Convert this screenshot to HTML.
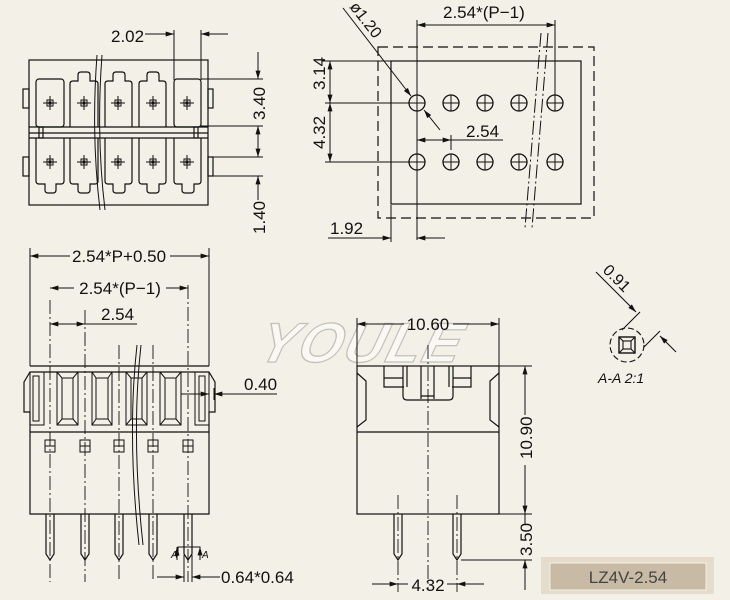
<!DOCTYPE html>
<html><head><style>
html,body{margin:0;padding:0;background:#f3f0e8;}
svg{display:block;}
text{font-family:"Liberation Sans",sans-serif;fill:#111;}
</style></head><body>
<svg width="730" height="600" viewBox="0 0 730 600" xmlns="http://www.w3.org/2000/svg">
<defs>
<marker id="a" viewBox="0 0 10 6" refX="10" refY="3" markerWidth="10" markerHeight="5" orient="auto-start-reverse" markerUnits="userSpaceOnUse"><path d="M0,0L10,3L0,6z" fill="#111"/></marker>
<g id="cross"><rect x="-3" y="-3" width="6" height="6" fill="none" stroke="#111" stroke-width="1"/><line x1="-7" y1="0" x2="7" y2="0" stroke="#111"/><line x1="0" y1="-7" x2="0" y2="7" stroke="#111"/><rect x="-1.5" y="-1.5" width="3" height="3" fill="#111"/></g>
<g id="hole"><circle r="8" fill="none" stroke="#111" stroke-width="1.3"/><line x1="-8" y1="0" x2="8" y2="0" stroke="#111"/><line x1="0" y1="-8" x2="0" y2="8" stroke="#111"/></g>
</defs>
<rect width="730" height="600" fill="#f3f0e8"/>

<!-- watermark -->
<text x="258" y="362" font-size="56" font-weight="bold" font-style="italic" style="fill:#f9f8f4;stroke:#c4c1b8;stroke-width:1.3" transform="skewX(-15) translate(95,0)" letter-spacing="2">YOULE</text>

<g stroke="#111" stroke-width="1.2" fill="none">
<!-- ===== Top-left view ===== -->
<rect x="29" y="60" width="179" height="145"/>
<rect x="23" y="89" width="6" height="19"/><rect x="23" y="157" width="6" height="19"/>
<rect x="208" y="89" width="5" height="19"/><rect x="208" y="157" width="5" height="19"/>
<line x1="29" y1="127" x2="208" y2="127"/><line x1="29" y1="133" x2="208" y2="133"/><line x1="29" y1="138" x2="208" y2="138"/>
<rect x="39" y="127" width="4" height="11"/><rect x="194" y="127" width="4" height="11"/>
<rect x="36" y="79" width="28" height="48" rx="3"/>
<path d="M70,127V84q0-3 3-3h5v-6q0-3 3-3h6q3 0 3 3v6h5q3 0 3 3v43"/>
<path d="M105,127V84q0-3 3-3h5v-6q0-3 3-3h6q3 0 3 3v6h4q3 0 3 3v43"/>
<path d="M139,127V84q0-3 3-3h5v-6q0-3 3-3h6q3 0 3 3v6h4q3 0 3 3v43"/>
<rect x="174" y="79" width="27" height="48" rx="3"/>
<path d="M36,138v43q0 3 3 3h6v6q0 3 3 3h5q3 0 3-3v-6h5q3 0 3-3v-43"/>
<path d="M70,138v43q0 3 3 3h5v6q0 3 3 3h6q3 0 3-3v-6h5q3 0 3-3v-43"/>
<path d="M105,138v43q0 3 3 3h5v6q0 3 3 3h6q3 0 3-3v-6h4q3 0 3-3v-43"/>
<path d="M139,138v43q0 3 3 3h5v6q0 3 3 3h6q3 0 3-3v-6h4q3 0 3-3v-43"/>
<path d="M174,138v43q0 3 3 3h5v6q0 3 3 3h6q3 0 3-3v-6h4q3 0 3-3v-43"/>
<path d="M97,55q-6 80 3 155" stroke-width="1"/><path d="M102,55q-6 80 3 155" stroke-width="1"/>
<!-- dims -->
<line x1="174" y1="30" x2="174" y2="80" stroke-width="1"/><line x1="201" y1="30" x2="201" y2="80" stroke-width="1"/>
<line x1="145" y1="34" x2="174" y2="34" stroke-width="1" marker-end="url(#a)"/>
<line x1="228" y1="34" x2="201" y2="34" stroke-width="1" marker-end="url(#a)"/>
<line x1="201" y1="79" x2="263" y2="79" stroke-width="1"/><line x1="201" y1="126" x2="263" y2="126" stroke-width="1"/>
<line x1="213" y1="157" x2="263" y2="157" stroke-width="1"/><line x1="213" y1="176" x2="263" y2="176" stroke-width="1"/>
<line x1="258" y1="52" x2="258" y2="79" stroke-width="1" marker-end="url(#a)"/>
<line x1="258" y1="140" x2="258" y2="126" stroke-width="1" marker-end="url(#a)"/>
<line x1="258" y1="140" x2="258" y2="157" stroke-width="1" marker-end="url(#a)"/>
<line x1="258" y1="200" x2="258" y2="176" stroke-width="1" marker-end="url(#a)"/>
</g>
<use href="#cross" x="50" y="103"/><use href="#cross" x="84" y="103"/><use href="#cross" x="118" y="103"/><use href="#cross" x="153" y="103"/><use href="#cross" x="187" y="103"/>
<use href="#cross" x="50" y="162"/><use href="#cross" x="84" y="162"/><use href="#cross" x="118" y="162"/><use href="#cross" x="153" y="162"/><use href="#cross" x="187" y="162"/>
<text x="111" y="42" font-size="17">2.02</text>
<text transform="translate(265,120) rotate(-90)" font-size="17">3.40</text>
<text transform="translate(265,234) rotate(-90)" font-size="17">1.40</text>

<!-- ===== Top-right view ===== -->
<g stroke="#111" stroke-width="1.2" fill="none">
<rect x="378" y="47" width="216" height="171" stroke-dasharray="10,5"/>
<rect x="391" y="61" width="190" height="143"/>
<line x1="417" y1="20" x2="417" y2="240" stroke-width="1"/>
<line x1="555" y1="20" x2="555" y2="95" stroke-width="1"/>
<line x1="417" y1="25" x2="555" y2="25" stroke-width="1" marker-start="url(#a)" marker-end="url(#a)"/>
<line x1="322" y1="61" x2="391" y2="61" stroke-width="1"/>
<line x1="325" y1="103" x2="409" y2="103" stroke-width="1"/>
<line x1="325" y1="162" x2="409" y2="162" stroke-width="1"/>
<line x1="330" y1="61" x2="330" y2="103" stroke-width="1" marker-start="url(#a)" marker-end="url(#a)"/>
<line x1="330" y1="103" x2="330" y2="162" stroke-width="1" marker-start="url(#a)" marker-end="url(#a)"/>
<line x1="343" y1="8" x2="411" y2="96" stroke-width="1" marker-end="url(#a)"/>
<line x1="440" y1="130" x2="424" y2="110" stroke-width="1" marker-end="url(#a)"/>
<line x1="451" y1="135" x2="451" y2="150" stroke-width="1"/>
<line x1="503" y1="140" x2="451" y2="140" stroke-width="1"/>
<line x1="417" y1="140" x2="451" y2="140" stroke-width="1" marker-start="url(#a)" marker-end="url(#a)"/>
<line x1="391" y1="205" x2="391" y2="242" stroke-width="1"/>
<line x1="328" y1="238" x2="391" y2="238" stroke-width="1" marker-end="url(#a)"/>
<line x1="445" y1="238" x2="417" y2="238" stroke-width="1" marker-end="url(#a)"/>
<line x1="541" y1="33" x2="525" y2="228" stroke-width="1" stroke-dasharray="14,3,2,3"/>
<line x1="548" y1="33" x2="532" y2="228" stroke-width="1" stroke-dasharray="14,3,2,3"/>
</g>
<use href="#hole" x="417" y="103"/><use href="#hole" x="451" y="103"/><use href="#hole" x="485" y="103"/><use href="#hole" x="519" y="103"/><use href="#hole" x="555" y="103"/>
<use href="#hole" x="417" y="162"/><use href="#hole" x="451" y="162"/><use href="#hole" x="485" y="162"/><use href="#hole" x="519" y="162"/><use href="#hole" x="555" y="162"/>
<text x="443" y="18" font-size="17">2.54*(P−1)</text>
<text transform="translate(325,90) rotate(-90)" font-size="17">3.14</text>
<text transform="translate(325,149) rotate(-90)" font-size="17">4.32</text>
<text transform="translate(349,7) rotate(52)" font-size="16">ø1.20</text>
<text x="466" y="137" font-size="17">2.54</text>
<text x="330" y="234" font-size="17">1.92</text>

<!-- ===== Bottom-left front view ===== -->
<g stroke="#111" stroke-width="1.2" fill="none">
<path d="M30,514V412h-6v-30l6-10h179l6 10v30h-6V514z"/>
<line x1="30" y1="366" x2="209" y2="366"/>
<line x1="30" y1="432" x2="209" y2="432"/>
<g stroke-width="1">
<rect x="30" y="372" width="14" height="53"/><rect x="33" y="376" width="6" height="45"/>
<rect x="57" y="372" width="21" height="53"/><rect x="62" y="378" width="11" height="41"/>
<rect x="92" y="372" width="20" height="53"/><rect x="96" y="378" width="12" height="41"/>
<rect x="126" y="372" width="21" height="53"/><rect x="131" y="378" width="11" height="41"/>
<rect x="160" y="372" width="21" height="53"/><rect x="165" y="378" width="11" height="41"/>
<rect x="195" y="372" width="14" height="53"/><rect x="199" y="376" width="6" height="45"/>
<path d="M57,372l5,6M78,372l-5,6M57,425l5,-6M78,425l-5,-6M92,372l4,6M112,372l-4,6M92,425l4,-6M112,425l-4,-6M126,372l5,6M147,372l-5,6M126,425l5,-6M147,425l-5,-6M160,372l5,6M181,372l-5,6M160,425l5,-6M181,425l-5,-6"/>
</g>
<g stroke-width="1">
<rect x="45" y="440" width="10" height="12"/><rect x="80" y="440" width="10" height="12"/><rect x="114" y="440" width="10" height="12"/><rect x="148" y="440" width="10" height="12"/><rect x="183" y="440" width="10" height="12"/>
<line x1="45" y1="446" x2="55" y2="446"/><line x1="80" y1="446" x2="90" y2="446"/><line x1="114" y1="446" x2="124" y2="446"/><line x1="148" y1="446" x2="158" y2="446"/><line x1="183" y1="446" x2="193" y2="446"/>
</g>
<path d="M46,514v40l4,6l4-6v-40M81,514v40l4,6l4-6v-40M115,514v40l4,6l4-6v-40M149,514v40l4,6l4-6v-40M184,514v40l4,6l4-6v-40"/>
<g stroke-width="0.9" stroke-dasharray="14,3,2,3">
<line x1="50" y1="300" x2="50" y2="582"/><line x1="85" y1="310" x2="85" y2="582"/><line x1="119" y1="345" x2="119" y2="582"/><line x1="153" y1="345" x2="153" y2="582"/><line x1="188" y1="285" x2="188" y2="582"/>
</g>
<line x1="30" y1="248" x2="30" y2="366" stroke-width="1"/><line x1="209" y1="248" x2="209" y2="366" stroke-width="1"/>
<line x1="30" y1="256" x2="70" y2="256" stroke-width="1" marker-start="url(#a)"/>
<line x1="170" y1="256" x2="209" y2="256" stroke-width="1" marker-end="url(#a)"/>
<line x1="50" y1="288" x2="74" y2="288" stroke-width="1" marker-start="url(#a)"/>
<line x1="166" y1="288" x2="188" y2="288" stroke-width="1" marker-end="url(#a)"/>
<line x1="50" y1="324" x2="85" y2="324" stroke-width="1" marker-start="url(#a)" marker-end="url(#a)"/>
<line x1="85" y1="324" x2="137" y2="324" stroke-width="1"/>
<line x1="181" y1="394" x2="209" y2="394" stroke-width="1" marker-end="url(#a)"/>
<line x1="277" y1="394" x2="214" y2="394" stroke-width="1" marker-end="url(#a)"/>
<line x1="214" y1="388" x2="214" y2="400" stroke-width="1"/>
<path d="M137,345q-10 90 2 200M141,345q-10 90 2 200" stroke-width="1"/>
<path d="M178,556v-9h22v9" stroke-width="1"/>
<line x1="177" y1="560" x2="177" y2="547" stroke-width="1" marker-end="url(#a)"/>
<line x1="200" y1="560" x2="200" y2="547" stroke-width="1" marker-end="url(#a)"/>
<line x1="184" y1="555" x2="184" y2="582" stroke-width="1"/><line x1="192" y1="555" x2="192" y2="582" stroke-width="1"/>
<line x1="157" y1="577" x2="184" y2="577" stroke-width="1" marker-end="url(#a)"/>
<line x1="220" y1="577" x2="192" y2="577" stroke-width="1" marker-end="url(#a)"/>
</g>
<text x="119" y="262" font-size="17" text-anchor="middle">2.54*P+0.50</text>
<text x="120" y="294" font-size="17" text-anchor="middle">2.54*(P−1)</text>
<text x="101" y="320" font-size="17">2.54</text>
<text x="244" y="390" font-size="17">0.40</text>
<text x="221" y="583" font-size="17">0.64*0.64</text>
<text x="171" y="558" font-size="10" font-style="italic">A</text>
<text x="202" y="558" font-size="10" font-style="italic">A</text>

<!-- ===== Bottom-middle side view ===== -->
<g stroke="#111" stroke-width="1.2" fill="none">
<rect x="357" y="366" width="142" height="148"/>
<line x1="357" y1="432" x2="499" y2="432"/>
<path d="M357,373l9,8v39l-9,7M499,373l-9,8v39l9,7"/>
<path d="M384,366v21h20M384,378h19M471,366v21h-19M471,378h-18"/>
<path d="M403,366v30q0 4 4 4h42q4 0 4-4v-30"/>
<path d="M421,366v33M434,366v33M421,396h13M407,366v21M449,366v21"/>
<line x1="428" y1="345" x2="428" y2="590" stroke-width="0.9" stroke-dasharray="14,3,2,3"/>
<path d="M394,514v40l4,6l4-6v-40M453,514v40l4,6l4-6v-40"/>
<line x1="398" y1="495" x2="398" y2="592" stroke-width="0.9" stroke-dasharray="14,3,2,3"/>
<line x1="457" y1="495" x2="457" y2="592" stroke-width="0.9" stroke-dasharray="14,3,2,3"/>
<line x1="357" y1="318" x2="357" y2="366" stroke-width="1"/><line x1="499" y1="318" x2="499" y2="366" stroke-width="1"/>
<line x1="357" y1="324" x2="404" y2="324" stroke-width="1" marker-start="url(#a)"/>
<line x1="453" y1="324" x2="499" y2="324" stroke-width="1" marker-end="url(#a)"/>
<line x1="499" y1="366" x2="532" y2="366" stroke-width="1"/><line x1="499" y1="514" x2="532" y2="514" stroke-width="1"/>
<line x1="461" y1="560" x2="532" y2="560" stroke-width="1"/>
<line x1="525" y1="366" x2="525" y2="415" stroke-width="1" marker-start="url(#a)"/>
<line x1="525" y1="465" x2="525" y2="514" stroke-width="1" marker-end="url(#a)"/>
<line x1="525" y1="514" x2="525" y2="525" stroke-width="1"/>
<line x1="525" y1="590" x2="525" y2="560" stroke-width="1" marker-end="url(#a)"/>
<line x1="372" y1="584" x2="398" y2="584" stroke-width="1" marker-end="url(#a)"/>
<line x1="484" y1="584" x2="457" y2="584" stroke-width="1" marker-end="url(#a)"/>
<line x1="398" y1="584" x2="408" y2="584" stroke-width="1"/><line x1="447" y1="584" x2="457" y2="584" stroke-width="1"/>
</g>
<text x="428" y="330" font-size="17" text-anchor="middle">10.60</text>
<text transform="translate(532,459) rotate(-90)" font-size="17">10.90</text>
<text transform="translate(532,556) rotate(-90)" font-size="17">3.50</text>
<text x="428" y="591" font-size="17" text-anchor="middle">4.32</text>

<!-- ===== A-A detail ===== -->
<g stroke="#111" stroke-width="1.1" fill="none">
<circle cx="627" cy="345" r="17" stroke-dasharray="6,3"/>
<rect x="619" y="337" width="16" height="16" stroke-width="1.4"/>
<rect x="623" y="341" width="8" height="8"/>
<path d="M619,337l4,4M635,337l-4,4M619,353l4,-4M635,353l-4,-4"/>
<line x1="596" y1="272" x2="636" y2="312" marker-end="url(#a)"/>
<line x1="676" y1="352" x2="660" y2="336" marker-end="url(#a)"/>
<line x1="640" y1="312" x2="622" y2="330"/>
<line x1="660" y1="331" x2="644" y2="347"/>
</g>
<text transform="translate(602,271) rotate(45)" font-size="16">0.91</text>
<text x="598" y="383" font-size="14" font-style="italic">A-A 2:1</text>

<!-- label -->
<rect x="541" y="557" width="173" height="37" fill="#e6dccb"/>
<rect x="550" y="563" width="156" height="27" fill="#c8baa4" stroke="#f5efe4" stroke-width="1"/>
<text x="628" y="583" font-size="17" text-anchor="middle" style="fill:#444">LZ4V-2.54</text>
</svg>
</body></html>
